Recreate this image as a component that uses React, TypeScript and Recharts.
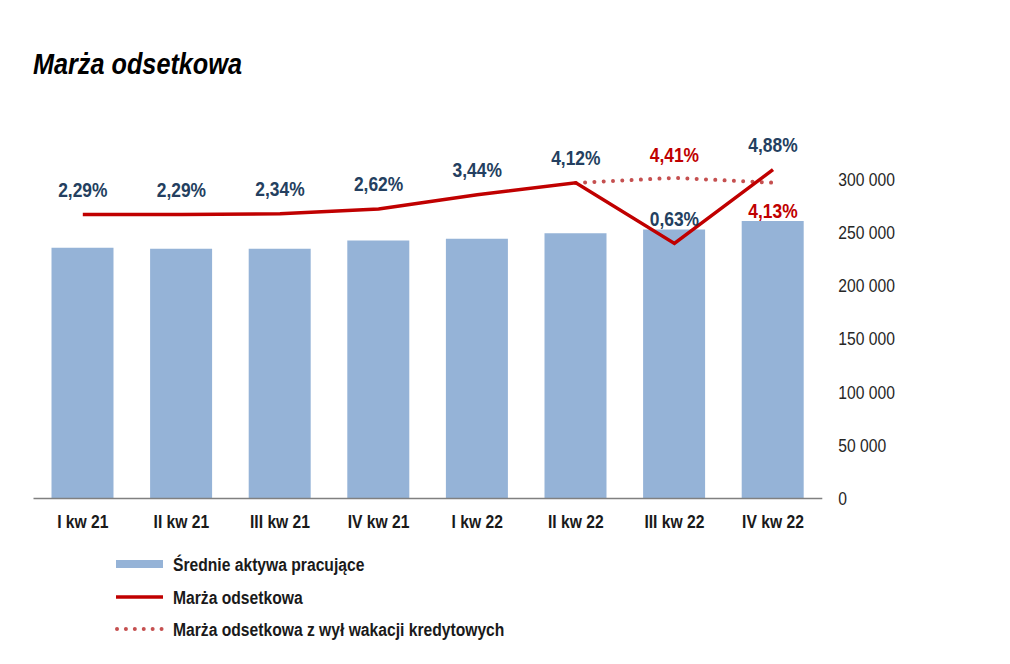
import React from 'react';
import { ComposedChart, Bar, Line, XAxis, YAxis, LabelList, Legend } from 'recharts';

const categories = ['I kw 21', 'II kw 21', 'III kw 21', 'IV kw 21', 'I kw 22', 'II kw 22', 'III kw 22', 'IV kw 22'];
const avgAssets = [235500, 234600, 234700, 242400, 244000, 249300, 252800, 260800];
const interestMargin = [2.29, 2.29, 2.34, 2.62, 3.44, 4.12, 0.63, 4.88];
const marginExHolidays: (number | null)[] = [null, null, null, null, null, 4.12, 4.41, 4.13];
const dottedLabelShown = [false, false, false, false, false, false, true, true];
const rightTicks = [0, 50000, 100000, 150000, 200000, 250000, 300000];

const TITLE = 'Marża odsetkowa';
const NAME_BAR = 'Średnie aktywa pracujące';
const NAME_LINE = 'Marża odsetkowa';
const NAME_DOTTED = 'Marża odsetkowa z wył wakacji kredytowych';

const data = categories.map((c, i) => ({
  name: c,
  assets: avgAssets[i],
  margin: interestMargin[i],
  marginEx: marginExHolidays[i],
}));

const FONT = '"Liberation Sans", Arial, sans-serif';
const SX = 0.87;
const NAVY = '#243F60';
const RED = '#C00000';
const DOT_RED = '#C55050';
const BAR = '#95B3D7';

const fmtPct = (v: number) => v.toFixed(2).replace('.', ',') + '%';
const fmtNum = (v: number) => v.toLocaleString('en-US').replace(/,/g, ' ');

const XTick = (props: any) => {
  const { x, y, payload } = props;
  return (
    <text
      transform={`translate(${x} ${y + 23.5}) scale(${SX} 1)`}
      textAnchor="middle"
      fontFamily={FONT}
      fontWeight="bold"
      fontSize={18}
      fill="#1a1a1a"
    >
      {payload.value}
    </text>
  );
};

const RightTick = (props: any) => {
  const { x, y, payload } = props;
  return (
    <text
      transform={`translate(${x} ${y + 6.5}) scale(${SX} 1)`}
      textAnchor="start"
      fontFamily={FONT}
      fontSize={18}
      fill="#262626"
    >
      {fmtNum(payload.value)}
    </text>
  );
};

const solidLabel = (props: any) => {
  const { x, y, value } = props;
  if (value == null) return null;
  return (
    <text
      transform={`translate(${x} ${y - 25 + 7.2}) scale(${SX} 1)`}
      textAnchor="middle"
      fontFamily={FONT}
      fontWeight="bold"
      fontSize={20}
      fill={NAVY}
    >
      {fmtPct(value)}
    </text>
  );
};

const dottedLabel = (props: any) => {
  const { x, y, value, index } = props;
  if (value == null || !dottedLabelShown[index]) return null;
  const below = index === 7;
  const cy = below ? y + 28.5 : y - 23;
  return (
    <text
      transform={`translate(${x} ${cy + 7.2}) scale(${SX} 1)`}
      textAnchor="middle"
      fontFamily={FONT}
      fontWeight="bold"
      fontSize={20}
      fill={RED}
    >
      {fmtPct(value)}
    </text>
  );
};

const LegendContent = () => {
  const rows = [
    { name: NAME_BAR, kind: 'bar', cy: 19 },
    { name: NAME_LINE, kind: 'line', cy: 52 },
    { name: NAME_DOTTED, kind: 'dot', cy: 84 },
  ];
  return (
    <svg width={600} height={100}>
      {rows.map((r) => (
        <g key={r.name}>
          {r.kind === 'bar' && <rect x={116} y={r.cy - 4} width={47} height={8} fill={BAR} />}
          {r.kind === 'line' && <line x1={116} x2={163} y1={r.cy} y2={r.cy} stroke={RED} strokeWidth={3.5} />}
          {r.kind === 'dot' && (
            <line
              x1={117}
              x2={162}
              y1={r.cy}
              y2={r.cy}
              stroke={DOT_RED}
              strokeWidth={4}
              strokeLinecap="round"
              strokeDasharray="0.01 8.9"
            />
          )}
          <text
            transform={`translate(173 ${r.cy + 6.5}) scale(${SX} 1)`}
            fontFamily={FONT}
            fontWeight="bold"
            fontSize={18}
            fill="#1a1a1a"
          >
            {r.name}
          </text>
        </g>
      ))}
    </svg>
  );
};

export default function App() {
  return (
    <div style={{ position: 'absolute', left: 0, top: 0, width: 1010, height: 664, background: '#fff' }}>
      <div
        style={{
          position: 'absolute',
          left: 33,
          top: 50,
          fontFamily: FONT,
          fontWeight: 'bold',
          fontStyle: 'italic',
          fontSize: 29,
          lineHeight: '29px',
          color: '#000',
          transform: `scaleX(${SX})`,
          transformOrigin: 'left top',
          whiteSpace: 'nowrap',
        }}
      >
        {TITLE}
      </div>
      <ComposedChart
        width={1010}
        height={664}
        data={data}
        margin={{ top: 126, right: 127.7, bottom: 135.5, left: 33.5 }}
        barCategoryGap={0}
      >
        <XAxis
          dataKey="name"
          axisLine={{ stroke: '#808080', strokeWidth: 1.5 }}
          tickLine={false}
          tickMargin={0}
          height={30}
          interval={0}
          tick={<XTick />}
        />
        <YAxis
          yAxisId="amt"
          orientation="right"
          domain={[0, 350000]}
          ticks={rightTicks}
          axisLine={false}
          tickLine={false}
          tickMargin={10}
          width={60}
          interval={0}
          tick={<RightTick />}
        />
        <YAxis yAxisId="pct" hide domain={[-14.08, 7.4]} allowDataOverflow />
        <Bar yAxisId="amt" dataKey="assets" name={NAME_BAR} fill={BAR} barSize={62} isAnimationActive={false} />
        <Line
          yAxisId="pct"
          type="linear"
          dataKey="marginEx"
          name={NAME_DOTTED}
          stroke={DOT_RED}
          strokeWidth={4}
          strokeLinecap="round"
          strokeDasharray="0.01 9.3"
          dot={false}
          activeDot={false}
          connectNulls={false}
          isAnimationActive={false}
        >
          <LabelList dataKey="marginEx" content={dottedLabel} />
        </Line>
        <Line
          yAxisId="pct"
          type="linear"
          dataKey="margin"
          name={NAME_LINE}
          stroke={RED}
          strokeWidth={3.5}
          dot={false}
          activeDot={false}
          isAnimationActive={false}
        >
          <LabelList dataKey="margin" content={solidLabel} />
        </Line>
        <Legend
          layout="horizontal"
          verticalAlign="middle"
          align="center"
          content={<LegendContent />}
          wrapperStyle={{ position: 'absolute', left: 0, top: 545, width: 600, height: 100 }}
        />
      </ComposedChart>
    </div>
  );
}
